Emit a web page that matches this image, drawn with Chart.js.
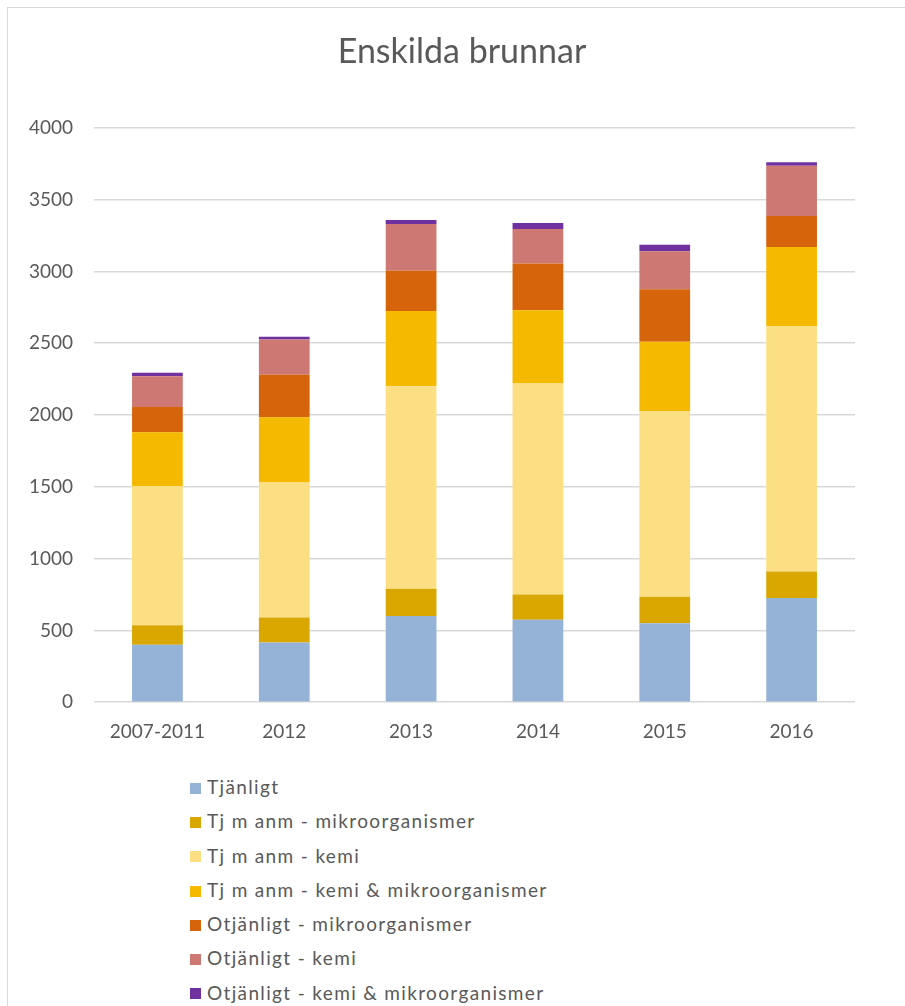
<!DOCTYPE html>
<html>
<head>
<meta charset="utf-8">
<script src="https://cdn.jsdelivr.net/npm/chart.js@4/dist/chart.umd.min.js"></script>
<style>
  body { margin: 0; background: #ffffff; font-family: Lato, "Open Sans", sans-serif; }
  #frame { position: absolute; left: 7px; top: 7px; width: 905px; height: 1010px; border: 1px solid #d9d9d9; box-sizing: border-box; }
  #wrap { position: absolute; left: 0; top: 0; width: 905px; height: 760px; }
  #legend { position: absolute; left: 190px; top: 770px; margin: 0; padding: 0; list-style: none; }
  #legend li { height: 34.3px; line-height: 34.3px; font-size: 19px; letter-spacing: 1.35px; color: #595959; white-space: nowrap; }
  #legend span { display: inline-block; width: 11px; height: 11px; margin-right: 6px; vertical-align: middle; position: relative; top: -1px; }
</style>
</head>
<body>
<div id="frame"></div>
<div id="wrap"><canvas id="myChart"></canvas></div>
<ul id="legend"></ul>
<script>
  // categories and series (antal brunnar)
  const labels = ['2007-2011', '2012', '2013', '2014', '2015', '2016'];
  const seriesNames = [
    'Tjänligt',
    'Tj m anm - mikroorganismer',
    'Tj m anm - kemi',
    'Tj m anm - kemi & mikroorganismer',
    'Otjänligt - mikroorganismer',
    'Otjänligt - kemi',
    'Otjänligt - kemi & mikroorganismer'
  ];
  const tjanligt        = [400, 415, 600, 575, 550, 725];
  const tjMikro         = [135, 175, 190, 175, 185, 185];
  const tjKemi          = [970, 940, 1410, 1470, 1290, 1710];
  const tjKemiMikro     = [375, 455, 525, 510, 485, 550];
  const otjMikro        = [175, 295, 280, 325, 365, 215];
  const otjKemi         = [215, 245, 325, 240, 265, 350];
  const otjKemiMikro    = [25, 20, 28, 42, 45, 25];
  const yTicks = [0, 500, 1000, 1500, 2000, 2500, 3000, 3500, 4000];

  const colors = ['#95b3d7', '#d9a700', '#fddf83', '#f5b900', '#d5640b', '#cd7873', '#7030a0'];
  const values = [tjanligt, tjMikro, tjKemi, tjKemiMikro, otjMikro, otjKemi, otjKemiMikro];

  const datasets = seriesNames.map(function (name, i) {
    return {
      label: name,
      data: values[i],
      backgroundColor: colors[i],
      borderWidth: 0,
      barPercentage: 0.4,
      categoryPercentage: 1
    };
  });

  const textColor = '#595959';
  const tickFont = { family: 'Lato', size: 19 };

  // width of the widest y label, so mirrored labels can be right-aligned 21px left of the plot
  const measureCtx = document.createElement('canvas').getContext('2d');
  measureCtx.font = tickFont.size + 'px ' + tickFont.family;
  const widestY = measureCtx.measureText(String(yTicks[yTicks.length - 1])).width;

  const myChart = new Chart(document.getElementById('myChart'), {
    type: 'bar',
    data: { labels: labels, datasets: datasets },
    options: {
      responsive: true,
      maintainAspectRatio: false,
      animation: false,
      // y axis kept narrow so the title is centred on the whole frame
      layout: { padding: { left: 69, right: 50, top: 0, bottom: 7 } },
      scales: {
        x: {
          stacked: true,
          grid: { display: false },
          border: { display: false },
          ticks: { color: textColor, font: tickFont, padding: 10 }
        },
        y: {
          stacked: true,
          min: 0,
          max: 4000,
          afterBuildTicks: function (axis) {
            axis.ticks = yTicks.map(function (v) { return { value: v }; });
          },
          afterFit: function (axis) {
            axis.width = 25;
          },
          grid: { color: '#d9d9d9', lineWidth: 1.5, drawTicks: false },
          border: { display: false },
          ticks: {
            color: textColor,
            font: tickFont,
            mirror: true,
            crossAlign: 'far',
            padding: -21 - widestY,
            callback: function (value) { return String(value); }
          }
        }
      },
      plugins: {
        legend: { display: false },
        tooltip: { enabled: false },
        title: {
          display: true,
          text: 'Enskilda brunnar',
          color: textColor,
          font: { family: 'Lato', size: 34, weight: 'normal' },
          padding: { top: 32, bottom: 55 }
        }
      }
    }
  });

  // legend list built from the chart's datasets
  const legendEl = document.getElementById('legend');
  myChart.data.datasets.forEach(function (ds) {
    const li = document.createElement('li');
    const box = document.createElement('span');
    box.style.background = ds.backgroundColor;
    li.appendChild(box);
    li.appendChild(document.createTextNode(ds.label));
    legendEl.appendChild(li);
  });
</script>
</body>
</html>
